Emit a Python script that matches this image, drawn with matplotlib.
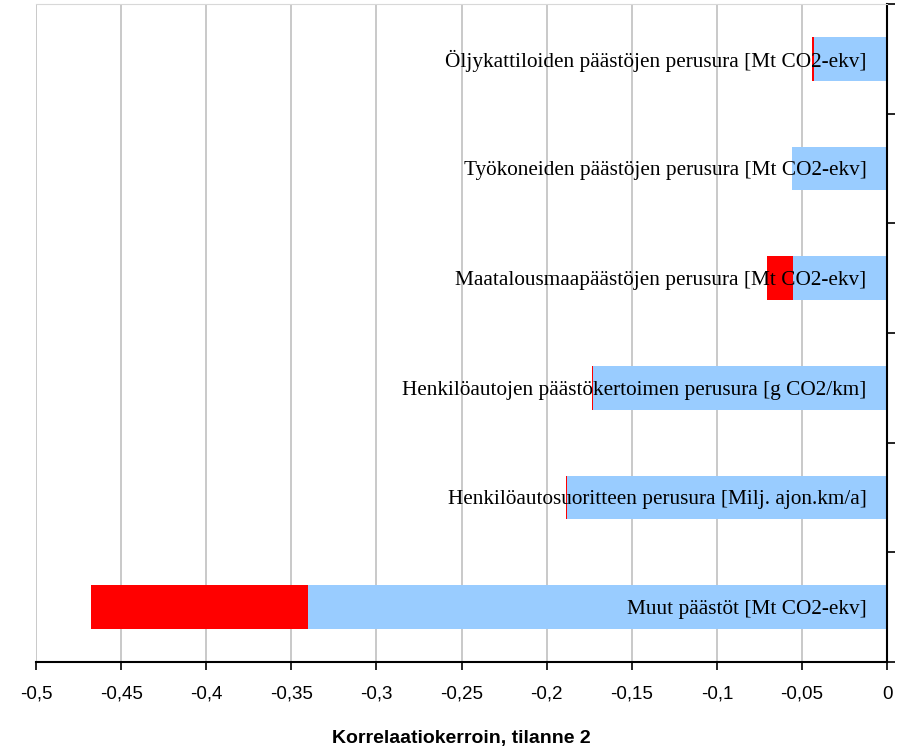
import matplotlib
matplotlib.use("Agg")
from matplotlib import pyplot as plt
from matplotlib.ticker import FuncFormatter, MultipleLocator

labels = [
    "Öljykattiloiden päästöjen perusura [Mt CO2-ekv]",
    "Työkoneiden päästöjen perusura [Mt CO2-ekv]",
    "Maatalousmaapäästöjen perusura [Mt CO2-ekv]",
    "Henkilöautojen päästökertoimen perusura [g CO2/km]",
    "Henkilöautosuoritteen perusura [Milj. ajon.km/a]",
    "Muut päästöt [Mt CO2-ekv]",
]
# blue part (correlation) and red end (extended value)
blue = [-0.0429, -0.0558, -0.0552, -0.1727, -0.1880, -0.3402]
red_end = [-0.0441, -0.0558, -0.0705, -0.1736, -0.1889, -0.4677]

fig = plt.figure(figsize=(9.02, 7.52), dpi=100)
ax = fig.add_axes([0.0399, 0.1197, 0.9435, 0.875])

ypos = list(range(len(labels)))
ax.barh(ypos, blue, height=0.4, color="#99CCFF", zorder=2)
red_w = [r - b for r, b in zip(red_end, blue)]
ax.barh(ypos, red_w, left=blue, height=0.4, color="#FF0000", zorder=2)

for y, lab in zip(ypos, labels):
    ax.text(-0.012, y + 0.02, lab, ha="right", va="center",
            family="Liberation Serif", fontsize=15.3, zorder=3)

ax.set_xlim(-0.5, 0)
ax.set_ylim(len(labels) - 0.5, -0.5)
ax.xaxis.set_major_locator(MultipleLocator(0.05))
ax.xaxis.set_major_formatter(FuncFormatter(
    lambda v, p: "0" if abs(v) < 1e-9 else ("%g" % round(v, 2)).replace(".", ",")))
ax.grid(axis="x", color="#C0C0C0", linewidth=1.2, zorder=0)

ax.yaxis.tick_right()
ax.set_yticks([i + 0.5 for i in range(-1, len(labels))])
ax.set_yticklabels([])
ax.tick_params(axis="y", direction="out", length=6, width=1.2, color="black")
ax.tick_params(axis="x", direction="out", length=6, width=1.2, color="black",
               labelsize=13.5, pad=11)
for t in ax.get_xticklabels():
    t.set_family("Liberation Sans")

ax.spines["left"].set_visible(False)
ax.spines["top"].set_color("#D8D8D8")
ax.spines["right"].set_linewidth(1.5)
ax.spines["bottom"].set_linewidth(1.5)

ax.set_xlabel("Korrelaatiokerroin, tilanne 2", family="Liberation Sans",
              fontsize=14, fontweight="bold", labelpad=20)

fig.savefig("out.png", dpi=100)
